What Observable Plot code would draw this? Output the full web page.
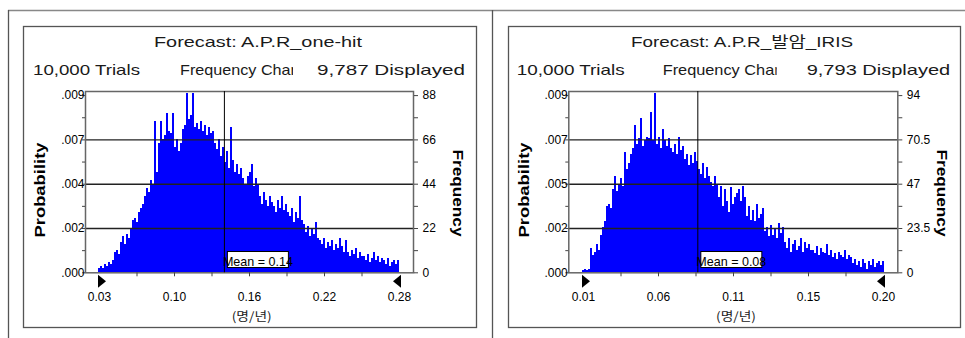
<!DOCTYPE html>
<html><head><meta charset="utf-8">
<script src="https://cdn.jsdelivr.net/npm/d3@7"></script>
<script src="https://cdn.jsdelivr.net/npm/@observablehq/plot@0.6"></script>
<style>
html,body{margin:0;padding:0;background:#fff;}
body{width:965px;height:338px;overflow:hidden;position:relative;font-family:"Liberation Sans",Arial,"Noto Sans CJK KR",sans-serif;}
.chart{position:absolute;}
#deco{position:absolute;left:0;top:0;pointer-events:none;}
</style></head><body>
<script>
// ---------- data ----------
const oneHitTitle = "Forecast: A.P.R_one-hit";
const irisTitle = "Forecast: A.P.R_발암_IRIS";
const trialsText = "10,000 Trials";
const chartKindText = "Frequency Chart";
const oneHitDisplayed = "9,787 Displayed";
const irisDisplayed = "9,793 Displayed";
const unitLabel = "(명/년)";
const probAxisTitle = "Probability";
const freqAxisTitle = "Frequency";

const oneHitXLabels = ["0.03", "0.10", "0.16", "0.22", "0.28"];
const irisXLabels = ["0.01", "0.06", "0.11", "0.15", "0.20"];
const oneHitRange = [0.034, 0.279];
const irisRange = [0.013, 0.198];
const oneHitBinRange = [0.0332, 0.279];
const irisBinRange = [0.0122, 0.1986];

const oneHitFreqTicks = [0, 22, 44, 66, 88];
const oneHitFreqLabels = ["0", "22", "44", "66", "88"];
const oneHitProbLabels = [".000", ".002", ".004", ".007", ".009"];
const irisFreqTicks = [0, 23.5, 47, 70.5, 94];
const irisFreqLabels = ["0", "23.5", "47", "70.5", "94"];
const irisProbLabels = [".000", ".002", ".005", ".007", ".009"];

const oneHitMean = 0.136;
const oneHitMeanLabel = "Mean = 0.14";
const irisMean = 0.0835;
const irisMeanLabel = "Mean = 0.08";

const oneHitFreq = [
  2,3,2, 4,3,5,4,6, 10,11,9, 15,18,14, 19,17,22, 26,27,25,30, 32,34, 38,42,40, 46,44,
  75, 50, 64,75,66, 68,79,70,69, 79, 62,66,60,64, 71,73, 89, 76,78, 89,
  72,74,71,75,70, 73,68,72,69,70, 64,61,66,58,62, 55,60,52,72, 56,50,54,49,52,
  47,44,48, 50,54,43,47,44, 38,34,40,36,33,38,35, 33,30,36,32,38,31,34,30,
  28,32,25,30,27,38,26, 24,20,23,18,22,19,25,17,
  16,14,17,12,15,13,16,11,14,12,17,13,10,16, 10,8,11,9,12,7,10,8,
  8,6,9,5,7,10,6,8,5,7, 6,4,7,3,5,6,4,6
];
const irisFreq = [
  1,2,1,2, 13,9, 11,15,12, 20,24,27, 35,36,34, 44,51,43, 47,50,46, 64,55,58,
  63,66,78, 68,71,82,67, 70,72,71,85,70,95, 68,72,66,76,70,67,71,
  66,64,68,63,72,65,67, 60,63,57,62,58,64,59, 55,52,58,50,56,51, 48,46,51,47,
  40,46,35,44,38,32,45,36,40,42, 44,38,46,40, 30,35,28,33,27,36,29,31,
  34,22,24,19,25,20,23,18,26,21,24,
  16,13,18,11,15,17,12,14,18,11,16,13,15,12, 12,10,14,9,13,11,10,15,9,12,
  8,10,7,11,9,8,12,7,9,8, 5,7,4,6,3,7,5,2,6,4,7,3,5,6,4,6
];

// ---------- layout ----------
const panels = [
  {left:23, top:26, width:453, marginLeft:62, marginRight:63, xRange:[76,376],
   range:oneHitRange, binRange:oneHitBinRange, freq:oneHitFreq, xLabels:oneHitXLabels,
   freqTicks:oneHitFreqTicks, freqLabels:oneHitFreqLabels, probLabels:oneHitProbLabels,
   mean:oneHitMean, meanLabel:oneHitMeanLabel, title:oneHitTitle, displayed:oneHitDisplayed,
   titleX:258, titleLen:208, trialsX:33, trialsLen:107, kindX:180, kindClip:113, kindLen:120.5,
   dispX:317, dispLen:148, probX:45, freqX:453, unitX:251.7},
  {left:508, top:26, width:452, marginLeft:60.3, marginRight:62.7, xRange:[75,375],
   range:irisRange, binRange:irisBinRange, freq:irisFreq, xLabels:irisXLabels,
   freqTicks:irisFreqTicks, freqLabels:irisFreqLabels, probLabels:irisProbLabels,
   mean:irisMean, meanLabel:irisMeanLabel, title:irisTitle, displayed:irisDisplayed,
   titleX:742, titleLen:222, trialsX:516.7, trialsLen:108, kindX:662.7, kindClip:114, kindLen:121.5,
   dispX:806.7, dispLen:143.5, probX:529, freqX:937, unitX:736}
];

const triLeft = {draw(ctx){ ctx.moveTo(-1.5,2); ctx.lineTo(-1.5,15); ctx.lineTo(6.5,8.5); ctx.closePath(); }};
const triRight = {draw(ctx){ ctx.moveTo(1.5,2); ctx.lineTo(1.5,15); ctx.lineTo(-6.5,8.5); ctx.closePath(); }};

function panelPlot(p) {
  const n = p.freq.length, bw = (p.binRange[1] - p.binRange[0]) / n;
  const bins = p.freq.map((f, i) => ({x1: p.binRange[0] + i*bw, x2: p.binRange[0] + (i+1)*bw, f}));
  const k = p.xLabels.length - 1;
  const majors = d3.range(k+1).map(i => p.range[0] + i*(p.range[1]-p.range[0])/k);
  const minors = d3.range(k).map(i => (majors[i] + majors[i+1]) / 2);
  const inner = [...majors.slice(1, -1), ...minors];
  const yMaj = p.freqTicks;
  const yMin = d3.range(yMaj.length-1).map(i => (yMaj[i] + yMaj[i+1]) / 2);
  const yAll = [...yMaj, ...yMin];
  return Plot.plot({
    width: p.width, height: 301,
    marginLeft: p.marginLeft, marginRight: p.marginRight, marginTop: 65, marginBottom: 54.7,
    style: {fontFamily: "Liberation Sans, Arial, sans-serif", fontSize: "12px", color: "#000", background: "transparent", overflow: "visible"},
    x: {domain: p.range, range: p.xRange, label: null},
    y: {domain: [0, yMaj[yMaj.length-1]], range: [246.3, 69.1], label: null},
    marks: [
      Plot.rectY(bins, {x1: "x1", x2: "x2", y: "f", fill: "#0000ff", shapeRendering: "crispEdges"}),
      Plot.ruleY(yMaj.slice(1, -1), {stroke: "#222", strokeWidth: 1.4}),
      Plot.frame({stroke: "#666", strokeWidth: 1.5}),
      Plot.ruleX([p.mean], {stroke: "#000", strokeWidth: 1}),
      Plot.axisX(inner, {tickSize: 4, tickFormat: () => "", stroke: "#444", label: null}),
      Plot.axisX(majors, {tickSize: 0, tickPadding: 20, tickFormat: d => p.xLabels[majors.indexOf(d)], fontSize: 12, label: null}),
      Plot.axisY(yAll, {anchor: "left", tickSize: 3, tickFormat: () => "", stroke: "#444", label: null}),
      Plot.axisY(yMaj, {anchor: "left", tickSize: 0, tickPadding: 1, tickFormat: d => p.probLabels[yMaj.indexOf(d)], fontSize: 12, label: null}),
      Plot.axisY(yAll, {anchor: "right", tickSize: 4, tickPadding: 5, stroke: "#444", fontSize: 12, label: null,
        tickFormat: d => { const j = yMaj.indexOf(d); return j >= 0 ? p.freqLabels[j] : ""; }}),
      Plot.dot([p.range[0]], {x: d => d, y: () => 0, symbol: triLeft, r: 5, fill: "#000", stroke: "none"}),
      Plot.dot([p.range[1]], {x: d => d, y: () => 0, symbol: triRight, r: 5, fill: "#000", stroke: "none"})
    ]
  });
}

const charts = panels.map(p => {
  const div = document.createElement("div");
  div.className = "chart";
  div.style.left = p.left + "px";
  div.style.top = p.top + "px";
  const svg = panelPlot(p);
  div.appendChild(svg);
  document.body.appendChild(div);
  return svg;
});

// ---------- decoration overlay ----------
const deco = d3.select("body").append("svg").attr("id", "deco").attr("width", 965).attr("height", 338);
deco.append("line").attr("x1", 8).attr("x2", 965).attr("y1", 10.5).attr("y2", 10.5).attr("stroke", "#888").attr("stroke-width", 1.5);
[8, 492].forEach(x => deco.append("line").attr("x1", x + 0.5).attr("x2", x + 0.5).attr("y1", 10).attr("y2", 338).attr("stroke", "#555").attr("stroke-width", 1.3));
const defs = deco.append("defs");

function txt(s, attrs) {
  const t = deco.append("text").text(s);
  for (const a in attrs) t.attr(a, attrs[a]);
  return t;
}
const FONT = "Liberation Sans, Arial, Noto Sans CJK KR, sans-serif";

panels.forEach((p, i) => {
  deco.append("rect").attr("x", p.left + 0.5).attr("y", 26.5).attr("width", p.width).attr("height", 301)
    .attr("fill", "none").attr("stroke", "#555").attr("stroke-width", 1.3);
  const head = {"font-family": FONT, "font-size": 15, fill: "#1a1a1a", lengthAdjust: "spacingAndGlyphs"};
  txt(p.title, {...head, x: p.titleX - p.titleLen/2, y: 47, textLength: p.titleLen});
  txt(trialsText, {...head, x: p.trialsX, y: 75, textLength: p.trialsLen});
  defs.append("clipPath").attr("id", "kclip" + i).append("rect").attr("x", p.kindX - 2).attr("y", 50).attr("width", p.kindClip + 2).attr("height", 35);
  txt(chartKindText, {...head, x: p.kindX, y: 75, textLength: p.kindLen, "clip-path": `url(#kclip${i})`});
  txt(p.displayed, {...head, x: p.dispX, y: 75, textLength: p.dispLen});
  txt(probAxisTitle, {transform: `translate(${p.probX},190) rotate(-90)`, "text-anchor": "middle", "font-family": FONT, "font-size": 15.5, "font-weight": "bold", textLength: 95, lengthAdjust: "spacingAndGlyphs"});
  txt(freqAxisTitle, {transform: `translate(${p.freqX},193) rotate(90)`, "text-anchor": "middle", "font-family": FONT, "font-size": 15.5, "font-weight": "bold", textLength: 87, lengthAdjust: "spacingAndGlyphs"});
  txt(unitLabel, {x: p.unitX, y: 321, "text-anchor": "middle", "font-family": "Noto Sans CJK KR, sans-serif", "font-size": 12, fill: "#222", textLength: 40, lengthAdjust: "spacingAndGlyphs"});
  // mean label box, placed with the chart's own x scale
  const mx = p.left + charts[i].scale("x").apply(p.mean);
  deco.append("rect").attr("x", mx + 3.5).attr("y", 251.5).attr("width", 61).attr("height", 16)
    .attr("fill", "#fff").attr("stroke", "#000").attr("stroke-width", 1);
  txt(p.meanLabel, {x: mx + 34, y: 265.5, "text-anchor": "middle", "font-family": FONT, "font-size": 13, textLength: 70, lengthAdjust: "spacingAndGlyphs"});
});
</script>
</body></html>
